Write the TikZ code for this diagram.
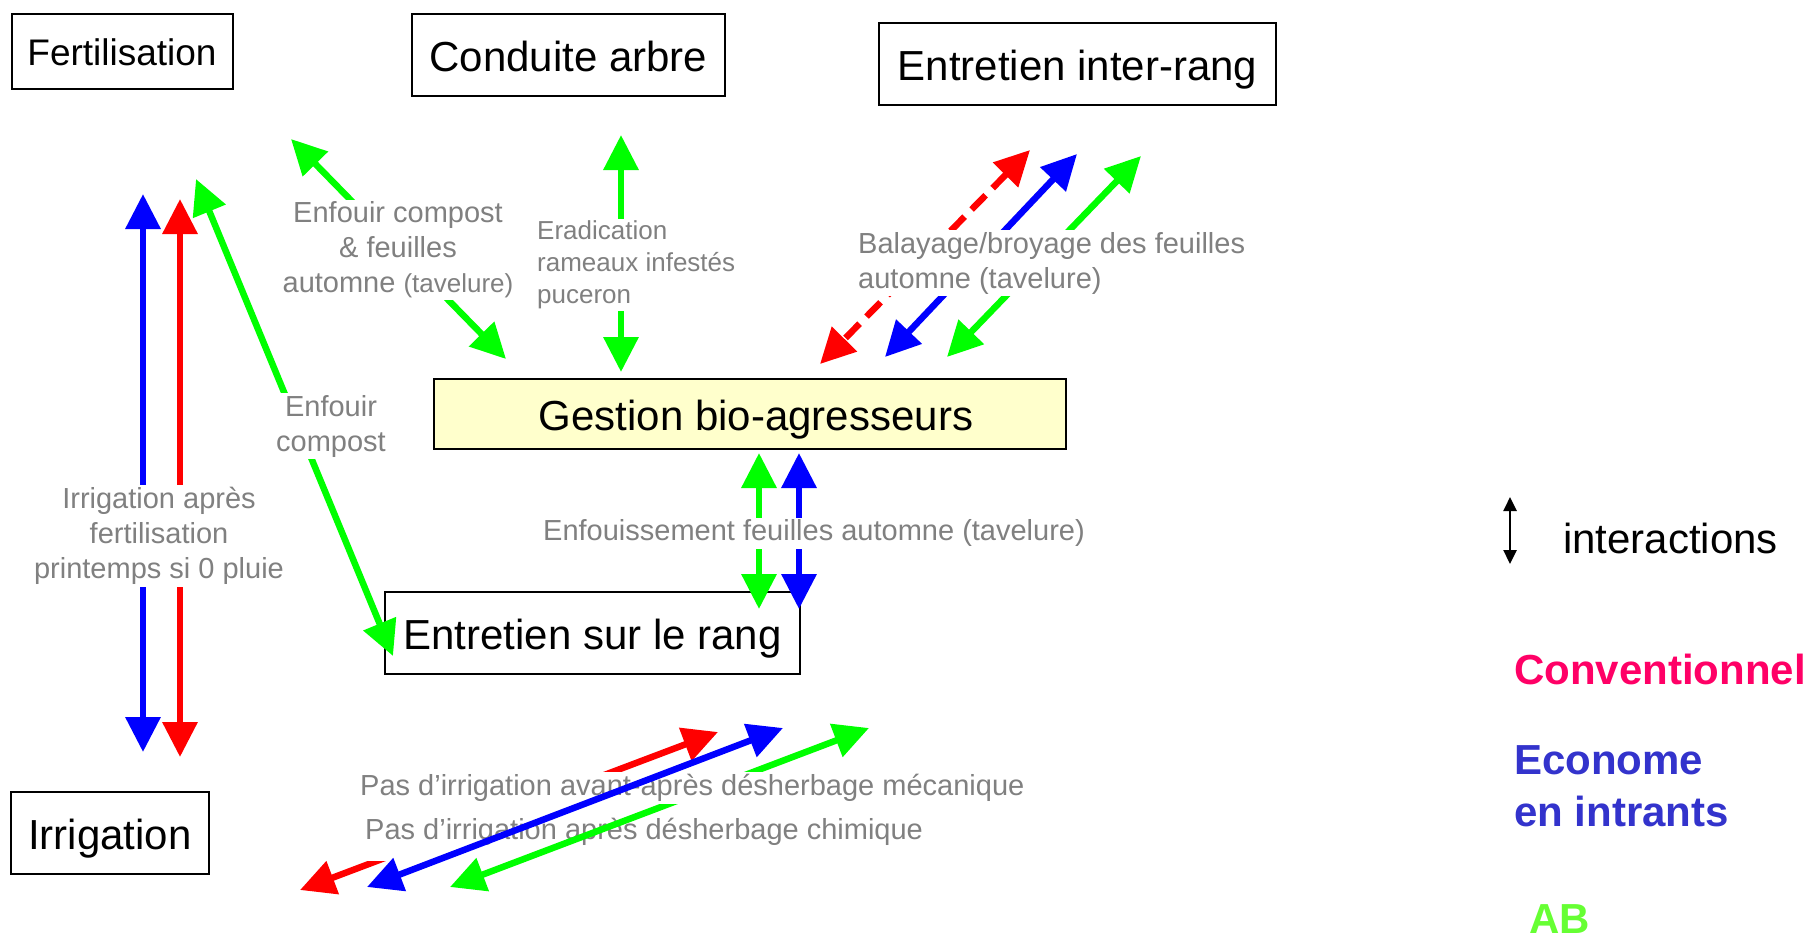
\documentclass[tikz,border=0pt]{standalone}
\usepackage{fontspec}
\setmainfont{Liberation Sans}
\usetikzlibrary{arrows.meta}

\definecolor{boxyellow}{HTML}{FFFFCC}
\definecolor{convcol}{HTML}{FF0066}
\definecolor{ecocol}{HTML}{3333CC}
\definecolor{abcol}{HTML}{66FF33}

\newcommand\boxtxt{\fontsize{42}{48}\selectfont}
\newcommand\fertxt{\fontsize{37}{42}\selectfont}
\newcommand\lbltxt{\fontsize{29}{35}\selectfont}
\newcommand\smalllbl{\fontsize{26}{32}\selectfont}

\tikzset{
  box/.style={draw, line width=2pt, inner sep=0pt, text height=33pt, text depth=0pt, font=\boxtxt},
  lbl/.style={fill=white, text=gray, inner sep=2pt, font=\lbltxt, align=center},
  link/.style={line width=6.5pt,
    {Triangle[length=35pt,width=34pt]}-{Triangle[length=35pt,width=34pt]}},
  legarrow/.style={line width=2.5pt,
    {Triangle[length=14pt,width=13pt]}-{Triangle[length=14pt,width=13pt]}},
}

\begin{document}
\begin{tikzpicture}[x=1pt, y=-1pt]
        \useasboundingbox (0,0) rectangle (1811,943);

        % the six activities
        \node (fert) [box, font=\fertxt, text height=27pt, minimum width=221pt, minimum height=75pt] at (122,51.5) {Fertilisation};
        \node (cond) [box, minimum width=313pt, minimum height=82pt] at (568.5,55) {Conduite arbre};
        \node (inter) [box, minimum width=397pt, minimum height=82pt] at (1077.5,64) {Entretien inter-rang};
        \node (gest) [box, fill=boxyellow, minimum width=632pt, minimum height=70pt] at (750,414) {\hspace{12pt}Gestion bio-agresseurs};
        \node (rang) [box, minimum width=415pt, minimum height=82pt] at (592.5,633) {Entretien sur le rang};
        \node (irr) [box, minimum width=197.5pt, minimum height=82pt] at (110,833) {Irrigation};

        % arrow ends
        \coordinate (fb1) at (143,194);  \coordinate (fb2) at (143,752);
        \coordinate (fr1) at (180,199);  \coordinate (fr2) at (180,757);
        \coordinate (fg1) at (196,179);  \coordinate (fg2) at (393,656);
        \coordinate (cg1) at (291,139);  \coordinate (cg2) at (506,359);
        \coordinate (eg1) at (621,135);  \coordinate (eg2) at (621,372);
        \coordinate (ir1) at (1030,150); \coordinate (ir2) at (820,364);
        \coordinate (ib1) at (1077,154); \coordinate (ib2) at (885,357);
        \coordinate (ig1) at (1141,156); \coordinate (ig2) at (947,357);
        \coordinate (rg1) at (759,453);  \coordinate (rg2) at (759,609);
        \coordinate (rb1) at (799,453);  \coordinate (rb2) at (799,609);
        \coordinate (pr1) at (718,732);  \coordinate (pr2) at (300,890);
        \coordinate (pb1) at (783,728);  \coordinate (pb2) at (367,887);
        \coordinate (pg1) at (869,728);  \coordinate (pg2) at (450,887);

        \draw (fb1) edge [link, blue] (fb2);
        \draw (fr1) edge [link, red] (fr2);
        \draw (fg1) edge [link, green] (fg2);
        \draw (cg1) edge [link, green] (cg2);
        \draw (eg1) edge [link, green] (eg2);
        \draw (ir1) edge [link, red, dash pattern=on 20pt off 10pt] (ir2);
        \draw (ib1) edge [link, blue] (ib2);
        \draw (ig1) edge [link, green] (ig2);
        \draw (rg1) edge [link, green] (rg2);
        \draw (rb1) edge [link, blue] (rb2);

        % labels on the arrows
        \node (lirr) [lbl] at (159,536) {Irrigation après\\fertilisation\\printemps si 0 pluie};
        \node (lcomp) [lbl] at (398,250) {Enfouir compost\\\& feuilles\\automne {\fontsize{26}{35}\selectfont(tavelure)}};
        \node (lcomp2) [lbl] at (331,426) {Enfouir\\compost};
        \node (lerad) [lbl, font=\smalllbl, align=left, anchor=west] at (535,265) {Eradication\\rameaux infestés\\puceron};
        \node (lbal) [lbl, align=left, anchor=west] at (856,263) {Balayage/broyage des feuilles\\automne (tavelure)};
        \node (lenf) [lbl] at (814,533) {Enfouissement feuilles automne (tavelure)};

        % irrigation / desherbage
        \draw (pr1) edge [link, red] (pr2);
        \node (lchim) [lbl, inner ysep=15pt, anchor=west] at (363,832) {Pas d’irrigation après désherbage chimique};
        \draw (pg1) edge [link, green] (pg2);
        \node (lmeca) [lbl, anchor=west] at (358,788) {Pas d’irrigation avant-après désherbage mécanique};
        \draw (pb1) edge [link, blue] (pb2);

        % legend
        \coordinate (li1) at (1510,497); \coordinate (li2) at (1510,564);
        \draw (li1) edge [legarrow] (li2);
        \node (lint) [anchor=west, inner sep=0pt, font=\boxtxt] at (1563,538) {interactions};
        \node (lconv) [anchor=west, inner sep=0pt, font=\boxtxt\bfseries, text=convcol] at (1514,669) {Conventionnel};
        \node (leco) [anchor=west, inner sep=0pt, font=\fontsize{42}{52}\selectfont\bfseries, text=ecocol, align=left] at (1514,786) {Econome\\en intrants};
        \node (lab) [anchor=west, inner sep=0pt, font=\boxtxt\bfseries, text=abcol] at (1529,919) {AB};
\end{tikzpicture}
\end{document}
